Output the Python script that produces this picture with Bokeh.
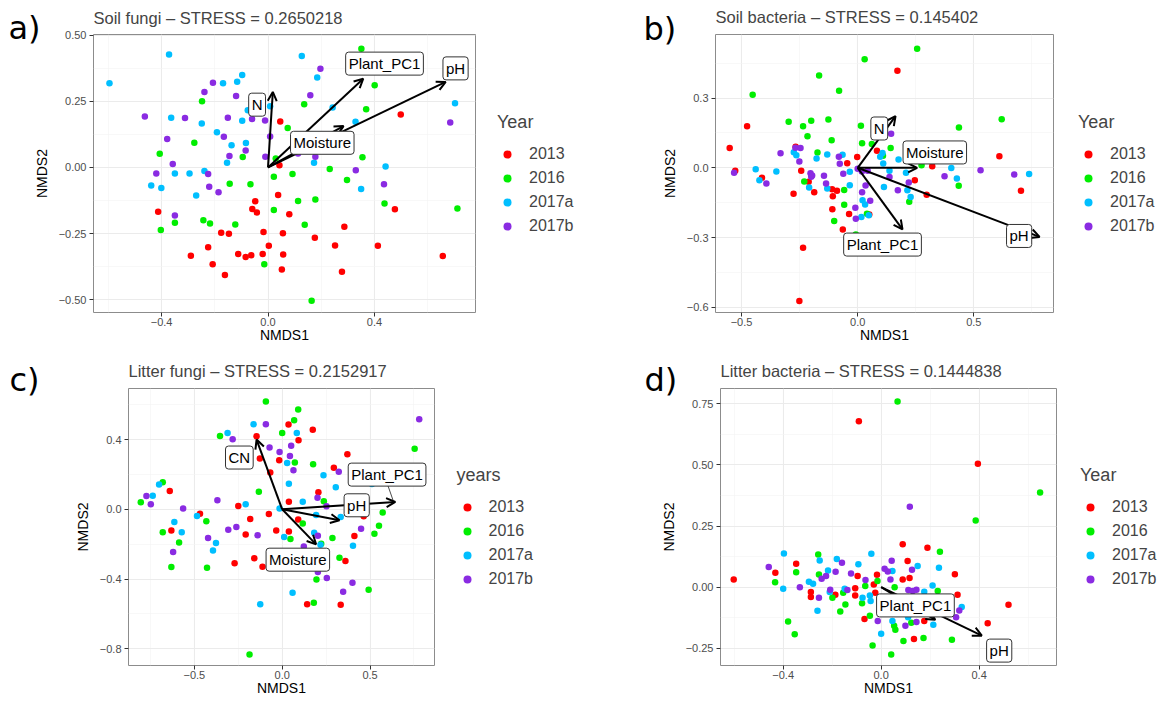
from bokeh.plotting import figure
from bokeh.models import Range1d, FixedTicker, Label, Arrow, OpenHead, Legend, LegendItem, Title
from bokeh.layouts import column, row
from bokeh.embed import file_html
from bokeh.resources import INLINE

years = ["2013", "2016", "2017a", "2017b"]
year_colors = ["#FF0000", "#00EE00", "#00BFFF", "#8A2BE2"]

# ---------------- Panel a: Soil fungi ----------------
a_2013_x = [0.046, 0.499, 0.043, 0.038, -0.048, -0.059, -0.042, 0.080, -0.413, 0.477, -0.017, -0.176, -0.147, 0.056, 0.287, 0.176, -0.225, 0.003, 0.252, 0.413, -0.290, -0.112, -0.084, -0.063, -0.020, 0.057, 0.657, -0.208, -0.162, 0.052, 0.278]
a_2013_y = [0.173, 0.200, 0.008, -0.104, -0.128, -0.157, -0.170, -0.177, -0.167, -0.158, -0.244, -0.247, -0.251, -0.249, -0.224, -0.266, -0.302, -0.296, -0.295, -0.296, -0.334, -0.327, -0.338, -0.332, -0.327, -0.329, -0.335, -0.366, -0.406, -0.386, -0.394]
a_2016_x = [0.351, 0.401, 0.136, 0.369, 0.074, -0.248, -0.277, -0.407, -0.095, 0.355, 0.232, 0.022, 0.092, 0.297, -0.144, -0.066, 0.113, 0.178, 0.438, 0.712, 0.022, 0.138, -0.243, -0.218, -0.123, -0.350, -0.403, -0.014, 0.164, 0.029]
a_2016_y = [0.448, 0.310, 0.239, 0.220, 0.149, 0.250, 0.093, 0.052, 0.039, 0.038, -0.006, -0.035, -0.025, -0.048, -0.062, -0.064, -0.127, -0.121, -0.136, -0.155, -0.161, -0.217, -0.200, -0.212, -0.216, -0.209, -0.236, -0.366, -0.504, 0.034]
a_2017a_x = [-0.596, -0.372, 0.127, -0.169, -0.116, -0.097, 0.185, -0.364, -0.249, -0.192, -0.137, -0.083, -0.097, -0.154, -0.350, -0.295, -0.239, -0.439, -0.401, -0.270, 0.173, 0.329, 0.243, 0.442, 0.350, 0.703, -0.076, 0.008]
a_2017a_y = [0.318, 0.426, 0.421, 0.318, 0.324, 0.349, 0.340, 0.188, 0.166, 0.133, 0.084, 0.092, 0.176, 0.018, -0.023, -0.023, -0.014, -0.068, -0.078, -0.106, 0.018, 0.172, 0.226, 0.003, -0.082, 0.242, 0.216, 0.231]
a_2017b_x = [-0.463, -0.312, -0.239, -0.207, -0.120, -0.151, -0.060, -0.011, -0.379, -0.166, -0.084, -0.145, -0.358, -0.420, -0.225, -0.221, -0.186, -0.350, 0.008, -0.010, 0.159, 0.197, 0.113, 0.178, 0.330, 0.436, 0.685]
a_2017b_y = [0.192, 0.187, 0.285, 0.320, 0.270, 0.188, 0.183, 0.177, 0.107, 0.116, 0.064, 0.043, 0.013, -0.023, -0.025, -0.073, -0.094, -0.182, 0.117, 0.040, 0.273, 0.373, 0.053, 0.040, -0.011, -0.064, 0.170]
a_vec_names = ["N", "Plant_PC1", "pH", "Moisture"]
a_vec_x = [0.018, 0.358, 0.668, 0.284]
a_vec_y = [0.285, 0.335, 0.323, 0.156]
a_lab_x = [-0.041, 0.438, 0.705, 0.204]
a_lab_y = [0.237, 0.392, 0.374, 0.093]
a_xticks = [-0.4, 0.0, 0.4]
a_xtick_labels = ["\u22120.4", "0.0", "0.4"]
a_yticks = [-0.5, -0.25, 0.0, 0.25, 0.5]
a_ytick_labels = ["\u22120.50", "\u22120.25", "0.00", "0.25", "0.50"]

# ---------------- Panel b: Soil bacteria ----------------
b_2013_x = [0.171, -0.476, -0.551, -0.267, -0.527, -0.412, -0.243, -0.045, -0.002, 0.321, 0.610, 0.083, -0.276, -0.187, -0.110, -0.089, -0.107, -0.109, -0.037, 0.050, -0.064, -0.235, -0.251, 0.246, 0.297, 0.703, -0.211]
b_2013_y = [0.417, 0.179, 0.085, 0.090, -0.013, -0.043, -0.013, 0.020, 0.046, 0.007, 0.050, 0.073, -0.112, -0.105, -0.092, -0.099, -0.122, -0.178, -0.199, -0.201, -0.265, -0.344, -0.573, -0.053, -0.116, -0.099, -0.060]
b_2016_x = [0.256, 0.030, -0.166, -0.080, -0.452, 0.620, -0.297, -0.235, -0.200, -0.126, 0.014, -0.216, -0.112, 0.436, 0.019, 0.061, 0.142, -0.173, 0.109, 0.275, -0.230, -0.058, -0.058, 0.040, -0.101, 0.222, 0.435, -0.008]
b_2016_y = [0.512, 0.467, 0.397, 0.331, 0.314, 0.209, 0.198, 0.179, 0.202, 0.208, 0.181, 0.136, 0.118, 0.173, 0.105, 0.102, 0.085, 0.066, 0.052, 0.011, -0.059, -0.095, -0.159, -0.198, -0.229, -0.146, -0.077, -0.287]
b_2017a_x = [-0.439, -0.350, -0.423, -0.275, -0.264, -0.177, -0.131, -0.065, -0.034, 0.107, 0.097, 0.176, 0.110, 0.137, 0.208, 0.403, 0.427, 0.738, -0.034, -0.131, -0.209, 0.113, 0.214, 0.228, 0.021, 0.016, 0.032, 0.048]
b_2017a_y = [-0.006, -0.016, -0.053, 0.067, 0.054, 0.040, 0.057, 0.056, -0.017, 0.064, 0.047, 0.036, 0.019, -0.013, -0.021, -0.001, -0.046, -0.027, -0.075, -0.089, -0.085, -0.083, -0.096, -0.126, -0.139, -0.212, -0.158, -0.204]
b_2017b_x = [-0.332, -0.268, -0.246, -0.251, -0.203, -0.200, -0.145, -0.136, -0.393, -0.532, -0.081, -0.077, -0.062, 0.000, 0.018, 0.043, 0.019, 0.034, 0.054, -0.010, -0.008, 0.144, 0.137, 0.173, 0.220, 0.374, 0.529, 0.674, -0.196]
b_2017b_y = [0.063, 0.086, 0.085, 0.027, -0.023, -0.039, -0.034, -0.067, -0.067, -0.021, 0.047, 0.017, -0.026, -0.004, -0.016, -0.013, -0.105, -0.076, -0.142, -0.172, -0.219, 0.146, -0.040, -0.097, -0.063, -0.036, -0.011, -0.029, -0.033]
b_vec_names = ["N", "Moisture", "Plant_PC1", "pH"]
b_vec_x = [0.163, 0.256, 0.193, 0.783]
b_vec_y = [0.222, 0.000, -0.265, -0.297]
b_lab_x = [0.093, 0.332, 0.107, 0.695]
b_lab_y = [0.169, 0.066, -0.330, -0.293]
b_xticks = [-0.5, 0.0, 0.5]
b_xtick_labels = ["\u22120.5", "0.0", "0.5"]
b_yticks = [-0.6, -0.3, 0.0, 0.3]
b_ytick_labels = ["\u22120.6", "\u22120.3", "0.0", "0.3"]

# ---------------- Panel c: Litter fungi ----------------
c_2013_x = [0.036, 0.174, 0.093, -0.146, -0.127, -0.017, -0.068, -0.640, -0.631, -0.468, -0.250, -0.182, -0.208, -0.076, -0.034, 0.038, 0.038, 0.091, 0.206, 0.294, 0.371, 0.411, 0.464, 0.360, -0.271, -0.159, -0.112, 0.142, 0.333]
c_2013_y = [0.486, 0.457, 0.396, 0.419, 0.291, 0.281, 0.211, 0.105, -0.121, -0.025, 0.019, -0.056, -0.145, -0.027, -0.122, -0.128, 0.044, -0.059, 0.098, 0.239, 0.316, -0.153, -0.040, -0.297, -0.310, -0.281, -0.329, -0.545, -0.547]
c_2016_x = [-0.093, 0.091, 0.068, 0.000, -0.354, 0.176, 0.072, -0.133, -0.680, -0.805, 0.237, 0.117, -0.680, -0.587, -0.432, -0.631, -0.428, 0.047, 0.222, 0.286, 0.326, 0.195, 0.180, 0.492, 0.525, 0.551, 0.572, 0.754, -0.186]
c_2016_y = [0.618, 0.572, 0.511, 0.438, 0.421, 0.258, 0.268, 0.101, 0.155, 0.040, 0.046, -0.082, -0.132, -0.191, -0.069, -0.331, -0.335, -0.170, -0.197, -0.165, -0.278, -0.402, -0.536, -0.461, -0.140, -0.094, -0.019, 0.348, -0.833]
c_2017a_x = [-0.163, -0.311, 0.083, 0.028, 0.038, 0.235, 0.305, 0.117, -0.015, -0.208, -0.485, -0.614, -0.572, -0.377, -0.394, 0.011, 0.182, 0.218, 0.333, 0.403, 0.511, 0.059, -0.125, -0.701, -0.737, 0.193]
c_2017a_y = [0.488, 0.438, 0.438, 0.266, 0.147, 0.195, 0.126, 0.044, 0.004, 0.029, -0.038, -0.073, -0.132, -0.193, -0.237, -0.159, -0.134, -0.203, -0.044, -0.209, 0.145, -0.478, -0.545, 0.142, 0.078, -0.033]
c_2017b_x = [-0.093, -0.282, -0.072, -0.015, 0.044, 0.051, 0.064, 0.322, 0.201, 0.252, -0.369, -0.564, -0.773, -0.748, -0.307, -0.261, -0.140, -0.422, -0.621, 0.203, 0.123, 0.203, 0.254, 0.400, 0.347, 0.449, 0.780]
c_2017b_y = [0.488, 0.402, 0.354, 0.329, 0.306, 0.364, 0.224, 0.216, 0.067, 0.017, 0.052, 0.004, 0.077, 0.029, -0.117, -0.101, -0.149, -0.165, -0.245, -0.151, -0.214, -0.360, -0.394, -0.421, -0.473, -0.111, 0.517]
c_vec_names = ["CN", "Plant_PC1", "pH", "Moisture"]
c_vec_x = [-0.146, 0.644, 0.326, 0.193]
c_vec_y = [0.400, 0.042, -0.063, -0.201]
c_lab_x = [-0.244, 0.597, 0.424, 0.089]
c_lab_y = [0.297, 0.199, 0.023, -0.289]
c_link_x = [0.599, 0.631]
c_link_y = [0.144, 0.052]
c_xticks = [-0.5, 0.0, 0.5]
c_xtick_labels = ["\u22120.5", "0.0", "0.5"]
c_yticks = [-0.8, -0.4, 0.0, 0.4]
c_ytick_labels = ["\u22120.8", "\u22120.4", "0.0", "0.4"]

# ---------------- Panel d: Litter bacteria ----------------
d_2013_x = [-0.091, 0.395, 0.088, 0.189, -0.347, -0.432, -0.602, -0.096, -0.017, 0.108, 0.088, 0.116, 0.301, -0.030, -0.287, -0.287, -0.187, -0.106, -0.106, -0.024, -0.068, 0.176, 0.134, 0.312, 0.520, 0.435]
d_2013_y = [0.679, 0.505, 0.175, 0.161, 0.096, 0.059, 0.031, 0.045, 0.051, 0.107, 0.031, 0.037, 0.053, 0.011, -0.020, -0.041, -0.031, -0.005, -0.034, -0.023, -0.131, -0.139, -0.213, -0.031, -0.072, -0.148]
d_2016_x = [0.067, 0.649, 0.386, 0.240, -0.257, -0.347, -0.433, -0.254, -0.015, 0.055, -0.065, -0.199, -0.155, -0.146, -0.078, -0.167, -0.380, -0.353, -0.046, 0.053, 0.058, 0.231, 0.173, 0.091, -0.035, 0.041, 0.289, 0.123]
d_2016_y = [0.760, 0.387, 0.273, 0.145, 0.133, 0.061, 0.020, 0.052, 0.025, -0.001, 0.004, -0.044, -0.023, -0.071, -0.066, -0.100, -0.141, -0.193, -0.117, -0.158, -0.175, -0.016, -0.208, -0.221, -0.239, -0.276, -0.216, -0.146]
d_2017a_x = [-0.397, -0.251, -0.181, -0.093, -0.040, -0.217, -0.295, -0.278, -0.400, -0.260, -0.076, -0.046, -0.043, 0.046, 0.149, 0.236, 0.210, 0.176, 0.000, 0.046, 0.110, 0.213, 0.329, -0.149, -0.210]
d_2017a_y = [0.138, 0.109, 0.115, 0.093, 0.137, 0.068, 0.022, 0.014, -0.007, -0.097, -0.044, -0.034, -0.057, 0.066, 0.086, 0.079, 0.007, -0.019, -0.191, -0.139, -0.123, -0.154, -0.082, -0.007, -0.020]
d_2017b_x = [-0.459, -0.332, -0.243, -0.225, -0.186, -0.160, -0.123, -0.254, -0.208, -0.138, -0.064, 0.014, 0.027, 0.043, 0.038, 0.117, 0.126, 0.111, 0.129, -0.014, 0.099, 0.144, 0.306, 0.319, 0.144]
d_2017b_y = [0.082, -0.001, 0.034, 0.045, 0.063, 0.100, 0.056, -0.044, -0.011, -0.012, 0.029, 0.075, 0.064, 0.108, 0.031, 0.329, 0.071, -0.012, -0.016, -0.139, -0.158, -0.143, -0.123, -0.096, -0.011]
d_vec_names = ["Plant_PC1", "pH"]
d_vec_x = [0.221, 0.411]
d_vec_y = [-0.134, -0.199]
d_lab_x = [0.140, 0.482]
d_lab_y = [-0.075, -0.260]
d_xticks = [-0.4, 0.0, 0.4]
d_xtick_labels = ["\u22120.4", "0.0", "0.4"]
d_yticks = [-0.25, 0.0, 0.25, 0.5, 0.75]
d_ytick_labels = ["\u22120.25", "0.00", "0.25", "0.50", "0.75"]

FONT = "Liberation Sans"


def minor_of(ticks):
    step = ticks[1] - ticks[0]
    return [t - step / 2 for t in ticks] + [ticks[-1] + step / 2]


def make_panel(letter, title, size, borders, xr, yr, xt, xtl, yt, ytl,
               series, vec, labs, tag_style, link=None):
    W, H = size
    bl, br, bt, bb = borders
    p = figure(width=W, height=H, output_backend="svg", toolbar_location=None,
               x_range=Range1d(*xr), y_range=Range1d(*yr),
               min_border_left=bl, min_border_right=br,
               min_border_top=bt, min_border_bottom=bb, title=title)
    p.background_fill_color = "white"
    p.border_fill_color = "white"
    p.outline_line_color = "#8c8c8c"
    p.outline_line_width = 1

    tag_offset, tag_standoff, title_standoff = tag_style
    p.title.text_font = FONT
    p.title.text_font_size = "16.5px"
    p.title.text_font_style = "normal"
    p.title.align = "left"
    p.title.vertical_align = "middle"
    p.title.offset = 0
    p.title.standoff = title_standoff

    # panel letter as a second title shifted to the left edge
    p.add_layout(Title(text=letter, align="left", vertical_align="middle",
                       offset=tag_offset, standoff=tag_standoff,
                       text_font="DejaVu Sans", text_font_size="32px",
                       text_font_style="normal", text_color="black"), "above")

    xticker = FixedTicker(ticks=xt, minor_ticks=minor_of(xt))
    yticker = FixedTicker(ticks=yt, minor_ticks=minor_of(yt))
    p.xaxis.ticker = xticker
    p.yaxis.ticker = yticker
    p.xgrid.ticker = xticker
    p.ygrid.ticker = yticker
    p.xaxis.major_label_overrides = dict(zip(xt, xtl))
    p.yaxis.major_label_overrides = dict(zip(yt, ytl))
    p.xaxis.axis_label = "NMDS1"
    p.yaxis.axis_label = "NMDS2"
    for ax in p.axis:
        ax.axis_line_color = None
        ax.major_tick_line_color = "#333333"
        ax.major_tick_in = 0
        ax.major_tick_out = 4
        ax.minor_tick_line_color = None
        ax.major_label_text_font = FONT
        ax.major_label_text_font_size = "11px"
        ax.major_label_text_color = "#4d4d4d"
        ax.axis_label_text_font = FONT
        ax.axis_label_text_font_size = "14px"
        ax.axis_label_text_font_style = "normal"
        ax.axis_label_text_color = "black"
    p.xaxis.major_label_standoff = 1
    p.xaxis.axis_label_standoff = -2
    p.yaxis.major_label_standoff = 3
    p.yaxis.axis_label_standoff = 6

    for g in (p.xgrid, p.ygrid):
        g.grid_line_color = "#ebebeb"
        g.grid_line_width = 1.1
        g.minor_grid_line_color = "#f3f3f3"
        g.minor_grid_line_width = 0.6

    for (xs, ys), col in zip(series, year_colors):
        p.scatter(xs, ys, size=6.5, fill_color=col, line_color=None)

    if link is not None:
        p.segment(x0=[link[0][0]], y0=[link[1][0]], x1=[link[0][1]],
                  y1=[link[1][1]], line_color="black", line_width=0.7)

    vx, vy = vec
    for ex, ey in zip(vx, vy):
        p.add_layout(Arrow(end=OpenHead(size=9, line_width=2, line_color="black"),
                           x_start=0, y_start=0, x_end=ex, y_end=ey,
                           line_width=2, line_color="black"))

    names, lx, ly = labs
    for t, x, y in zip(names, lx, ly):
        p.add_layout(Label(x=x, y=y, text=t, text_align="center",
                           text_baseline="middle", text_font=FONT,
                           text_font_size="15px", text_color="black",
                           background_fill_color="white",
                           border_line_color="#333333", border_line_width=1,
                           padding=3, border_radius=3))
    return p


def make_legend(series, legend_title, size, loc):
    # a frameless strip holding the legend; its proxy glyphs sit outside the view
    W, H = size
    lf = figure(width=W, height=H, output_backend="svg", toolbar_location=None,
                x_range=Range1d(10, 11), y_range=Range1d(10, 11),
                min_border_left=0, min_border_right=0, min_border_top=0,
                min_border_bottom=0, x_axis_location=None, y_axis_location=None)
    lf.outline_line_color = None
    lf.background_fill_color = "white"
    lf.border_fill_color = "white"
    lf.grid.visible = False
    items = []
    for (xs, ys), yr_name, col in zip(series, years, year_colors):
        r = lf.scatter(xs, ys, size=6.5, fill_color=col, line_color=None)
        items.append(LegendItem(label=yr_name, renderers=[r]))
    leg = Legend(items=items, title=legend_title, location=loc)
    leg.title_text_font = FONT
    leg.title_text_font_size = "18px"
    leg.title_text_font_style = "normal"
    leg.title_standoff = 9
    leg.label_text_font = FONT
    leg.label_text_font_size = "16px"
    leg.glyph_width = 20
    leg.glyph_height = 24
    leg.label_height = 24
    leg.label_standoff = 12
    leg.spacing = 0
    leg.padding = 0
    leg.margin = 0
    leg.border_line_color = None
    leg.background_fill_alpha = 0
    lf.add_layout(leg)
    return lf


a_series = [(a_2013_x, a_2013_y), (a_2016_x, a_2016_y), (a_2017a_x, a_2017a_y), (a_2017b_x, a_2017b_y)]
b_series = [(b_2013_x, b_2013_y), (b_2016_x, b_2016_y), (b_2017a_x, b_2017a_y), (b_2017b_x, b_2017b_y)]
c_series = [(c_2013_x, c_2013_y), (c_2016_x, c_2016_y), (c_2017a_x, c_2017a_y), (c_2017b_x, c_2017b_y)]
d_series = [(d_2013_x, d_2013_y), (d_2016_x, d_2016_y), (d_2017a_x, d_2017a_y), (d_2017b_x, d_2017b_y)]

pa = make_panel("a)", "Soil fungi \u2013 STRESS = 0.2650218",
                (477, 349), (93, 2, 34, 36), (-0.656, 0.780), (-0.548, 0.502),
                a_xticks, a_xtick_labels, a_yticks, a_ytick_labels, a_series,
                (a_vec_x, a_vec_y), (a_vec_names, a_lab_x, a_lab_y),
                (-85, -25.6, -14.2))
la = make_legend(a_series, "Year", (123, 349), (20, 74))

pb = make_panel("b)", "Soil bacteria \u2013 STRESS = 0.145402",
                (455, 349), (115, 2, 34, 37), (-0.612, 0.843), (-0.622, 0.573),
                b_xticks, b_xtick_labels, b_yticks, b_ytick_labels, b_series,
                (b_vec_x, b_vec_y), (b_vec_names, b_lab_x, b_lab_y),
                (-72, -29, -7.4))
lb = make_legend(b_series, "Year", (107, 349), (23, 74))

pc = make_panel("c)", "Litter fungi \u2013 STRESS = 0.2152917",
                (436, 353), (128, 2, 39, 37), (-0.875, 0.867), (-0.896, 0.693),
                c_xticks, c_xtick_labels, c_yticks, c_ytick_labels, c_series,
                (c_vec_x, c_vec_y), (c_vec_names, c_lab_x, c_lab_y),
                (-119, -22.2, -21), link=(c_link_x, c_link_y))
lc = make_legend(c_series, "years", (164, 353), (20.5, 74))

pd_ = make_panel("d)", "Litter bacteria \u2013 STRESS = 0.1444838",
                 (458, 353), (120, 2, 39, 37), (-0.656, 0.716), (-0.321, 0.813),
                 d_xticks, d_xtick_labels, d_yticks, d_ytick_labels, d_series,
                 (d_vec_x, d_vec_y), (d_vec_names, d_lab_x, d_lab_y),
                 (-76, -22.2, -21))
ld = make_legend(d_series, "Year", (104, 353), (22, 74))

layout = column(row(pa, la, pb, lb), row(pc, lc, pd_, ld))
open("out.html", "w").write(file_html(layout, INLINE))
